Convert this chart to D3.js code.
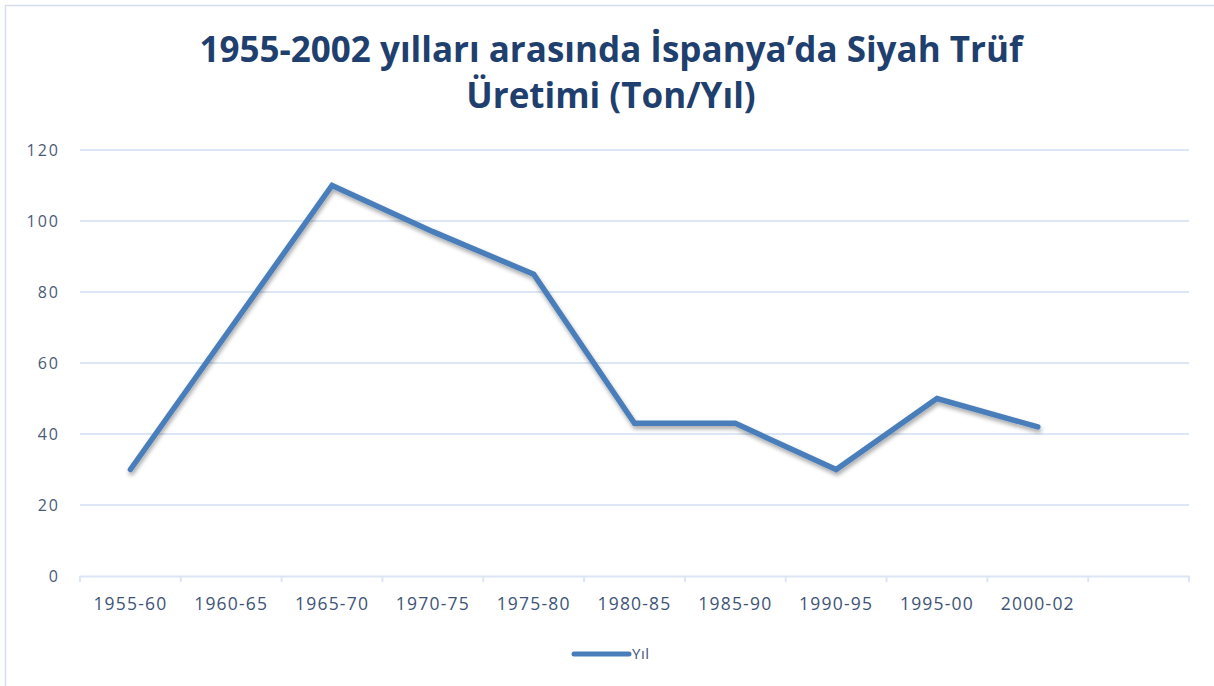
<!DOCTYPE html>
<html><head><meta charset="utf-8">
<script src="https://cdn.jsdelivr.net/npm/d3@7"></script>
<style>
html,body{margin:0;padding:0;background:#fff;}
svg{display:block;}
</style></head>
<body>
<script>
const categories = ["1955-60","1960-65","1965-70","1970-75","1975-80","1980-85","1985-90","1990-95","1995-00","2000-02",""];
const values = [30,70,110,97,85,43,43,30,50,42];
const yTicks = [0,20,40,60,80,100,120];
const seriesName = "Yıl";
const titleLines = ["1955-2002 yılları arasında İspanya’da Siyah Trüf","Üretimi (Ton/Yıl)"];

(function(){
const W=1214,H=686;
const svg=d3.select("body").append("svg").attr("width",W).attr("height",H);
const defs=svg.append("defs");
const f=defs.append("filter").attr("id","sh").attr("x","-10%").attr("y","-10%").attr("width","120%").attr("height","130%");
f.append("feDropShadow").attr("dx",1).attr("dy",3).attr("stdDeviation",2).attr("flood-color","#000").attr("flood-opacity",0.35);

svg.append("rect").attr("x",5.5).attr("y",5.5).attr("width",W+10).attr("height",H+10)
  .attr("fill","#fff").attr("stroke","#D5DFEE").attr("stroke-width",1.5);

const pL=80,pR=1189,pT=150,pB=576;
const x=d3.scaleBand().domain(categories.map((c,i)=>i)).range([pL,pR]);
const y=d3.scaleLinear().domain([0,120]).range([pB,pT]);

svg.append("g").selectAll("line").data(yTicks.filter(d=>d>0)).join("line")
  .attr("x1",pL).attr("x2",pR).attr("y1",d=>y(d)).attr("y2",d=>y(d))
  .attr("stroke","#DCE6F4").attr("stroke-width",2);

const yAx=svg.append("g").attr("transform",`translate(${pL},0)`)
  .call(d3.axisLeft(y).tickValues(yTicks).tickSize(0).tickPadding(20));
yAx.select(".domain").remove();
yAx.selectAll("text").attr("font-family","'Open Sans', sans-serif").attr("font-size",16)
  .attr("letter-spacing","2px").attr("fill","#4A5A78");

const xAx=svg.append("g").attr("transform",`translate(0,${pB})`)
  .call(d3.axisBottom(x).tickFormat(i=>categories[i]).tickSize(0).tickPadding(22));
xAx.select(".domain").attr("stroke","#DCE6F4").attr("stroke-width",2);
xAx.selectAll("text").attr("font-family","'Open Sans', sans-serif").attr("font-size",17.5)
  .attr("letter-spacing","1.2px").attr("fill","#3E5478");
const bounds=categories.map((c,i)=>x(i)).concat([pR]);
svg.append("g").selectAll("line").data(bounds).join("line")
  .attr("x1",d=>d).attr("x2",d=>d).attr("y1",pB).attr("y2",pB+6)
  .attr("stroke","#DCE6F4").attr("stroke-width",2);

const line=d3.line().x((d,i)=>x(i)+x.bandwidth()/2).y(d=>y(d));
svg.append("path").datum(values).attr("d",line).attr("fill","none")
  .attr("stroke","#4A7EBB").attr("stroke-width",5.5).attr("stroke-linejoin","miter").attr("stroke-linecap","round")
  .attr("filter","url(#sh)");

svg.append("g").selectAll("text").data(titleLines).join("text")
  .attr("x",611).attr("y",(d,i)=>62+i*46).attr("text-anchor","middle")
  .attr("font-family","'Open Sans', sans-serif").attr("font-weight","bold").attr("font-size",35)
  .attr("letter-spacing","0px")
  .attr("fill","#1F3F6E").text(d=>d);

svg.append("line").attr("x1",574).attr("x2",629).attr("y1",654).attr("y2",654)
  .attr("stroke","#4A7EBB").attr("stroke-width",5).attr("stroke-linecap","round");
svg.append("text").attr("x",632).attr("y",659).attr("font-family","'Open Sans', sans-serif")
  .attr("font-size",15).attr("letter-spacing","0.5px").attr("fill","#3E5478").text(seriesName);
})();
</script>
</body></html>
